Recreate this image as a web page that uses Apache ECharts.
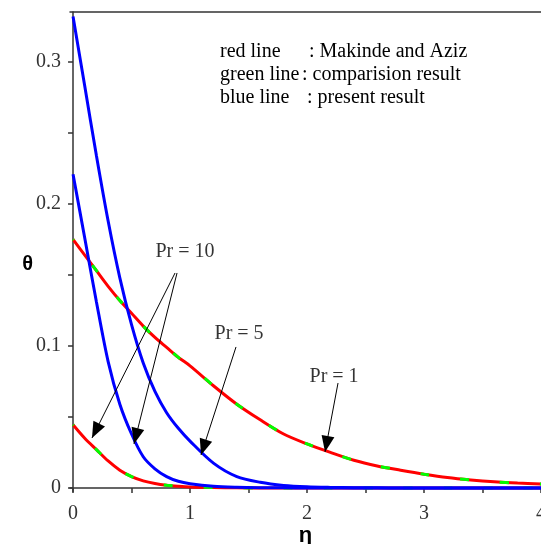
<!DOCTYPE html>
<html>
<head>
<meta charset="utf-8">
<title>theta vs eta</title>
<style>
  * { margin: 0; padding: 0; }
  #chart-container { width: 541px; height: 544px; background: #fff; }
</style>
</head>
<body>
<div id="chart-container"></div>
<script src="https://cdn.jsdelivr.net/npm/echarts@6/dist/echarts.min.js"></script>
<script>
// eta grid shared by every curve
var eta = [0, 0.1, 0.2, 0.3, 0.4, 0.5, 0.6, 0.7, 0.8, 0.9, 1.0,
  1.2, 1.4, 1.6, 1.8, 2.0, 2.2, 2.4, 2.6, 2.8, 3.0, 3.2, 3.4, 3.6, 3.8, 4.0];

// red / green (Makinde and Aziz, comparison) curves
var redPr1 = [0.175, 0.164, 0.153, 0.142, 0.132, 0.123, 0.114, 0.106, 0.099, 0.092, 0.086,
  0.072, 0.059, 0.048, 0.038, 0.031, 0.025, 0.0195, 0.0155, 0.0125, 0.0097, 0.0073, 0.0056, 0.0043, 0.0034, 0.0028];
var redPr10 = [0.0445, 0.035, 0.027, 0.019, 0.0125, 0.008, 0.005, 0.0031, 0.0019, 0.0012, 0.0007,
  0.0003, 0.0001, 0, 0, 0, 0, 0, 0, 0, 0, 0, 0, 0, 0, 0];

// blue (present result) curves
var bluePr5 = [0.332, 0.283, 0.234, 0.188, 0.148, 0.115, 0.088, 0.068, 0.053, 0.042, 0.033,
  0.0175, 0.008, 0.004, 0.0018, 0.0008, 0.0004, 0.0002, 0.0001, 0, 0, 0, 0, 0, 0, 0];
var bluePr10 = [0.221, 0.176, 0.131, 0.089, 0.059, 0.038, 0.022, 0.0135, 0.008, 0.0047, 0.003,
  0.0012, 0.0005, 0.0002, 0.0001, 0, 0, 0, 0, 0, 0, 0, 0, 0, 0, 0];

// axis ticks and labels
var xLabels = [0, 1, 2, 3, 4];
var xTicks = [0, 0.5, 1, 1.5, 2, 2.5, 3, 3.5, 4];
var yLabels = [0, 0.1, 0.2, 0.3];
var yTicks = [0, 0.05, 0.1, 0.15, 0.2, 0.25, 0.3];

// annotations: label positions and arrows [from, to] in data units
var annoText = ['Pr = 10', 'Pr = 5', 'Pr = 1'];
var annoPos = [[0.957, 0.1662], [1.419, 0.1084], [2.231, 0.0782]];
var arrowFrom = [[0.872, 0.1514], [0.889, 0.1514], [1.393, 0.0993], [2.265, 0.0739]];
var arrowTo = [[0.162, 0.0352], [0.521, 0.031], [1.094, 0.0232], [2.154, 0.0254]];

// legend text: [label, description, x of description]
var legendRows = [
  ['red line', ': Makinde and Aziz', 309],
  ['green line', ': comparision result', 302],
  ['blue line', ': present result', 307]
];

function pairs(ys) {
  return eta.map(function (x, i) { return [x, ys[i]]; });
}

var serif = '"Liberation Serif", "Times New Roman", serif';

var dom = document.getElementById('chart-container');
var myChart = echarts.init(dom, null, { renderer: 'canvas' });

var graphics = [];
legendRows.forEach(function (row, i) {
  var y = 52 + i * 23;
  graphics.push({
    type: 'text', x: 220, y: y,
    style: { text: row[0], font: '20px ' + serif, fill: '#000', textVerticalAlign: 'middle' }
  });
  graphics.push({
    type: 'text', x: row[2], y: y,
    style: { text: row[1], font: '20px ' + serif, fill: '#000', textVerticalAlign: 'middle' }
  });
});

function curve(data, color, z, dashed) {
  var ls = { color: color, width: 3 };
  if (dashed) {
    ls.type = [9, 31];
    ls.dashOffset = 8;
    ls.cap = 'butt';
  }
  return {
    type: 'line', data: pairs(data), showSymbol: false, smooth: 0.3,
    lineStyle: ls, z: z, silent: true
  };
}

var option = {
  animation: false,
  backgroundColor: '#fff',
  grid: { left: 70, right: 0, top: 12, bottom: 52.5, outerBoundsMode: 'none', containLabel: false },
  graphic: graphics,
  xAxis: [{
    type: 'value', min: -0.026, max: 4.0,
    name: 'η', nameLocation: 'middle', nameGap: 33, nameMoveOverlap: false,
    nameTextStyle: { fontFamily: 'Liberation Sans', fontWeight: 'bold', fontSize: 22, color: '#000' },
    axisLine: { lineStyle: { color: '#333', width: 1.5 } },
    axisTick: { customValues: xTicks, length: 5, lineStyle: { color: '#333', width: 1.5 } },
    axisLabel: { customValues: xLabels, margin: 12, fontFamily: serif, fontSize: 20, color: '#333' },
    splitLine: { show: false }
  }, {
    type: 'value', position: 'top', min: -0.026, max: 4.0,
    axisLine: { show: true, lineStyle: { color: '#333', width: 1.5 } },
    axisTick: { show: false }, axisLabel: { show: false }, splitLine: { show: false }
  }],
  yAxis: {
    type: 'value', min: -0.0025, max: 0.3352,
    name: 'θ', nameLocation: 'middle', nameGap: 37, nameRotate: 0, nameMoveOverlap: false,
    nameTextStyle: { fontFamily: 'Liberation Sans', fontWeight: 'bold', fontSize: 20, color: '#000',
      verticalAlign: 'top', lineHeight: 26 },
    axisLine: { lineStyle: { color: '#333', width: 1.5 } },
    axisTick: { customValues: yTicks, length: 5, lineStyle: { color: '#333', width: 1.5 } },
    axisLabel: { customValues: yLabels, margin: 9, fontFamily: serif, fontSize: 20, color: '#333',
      formatter: function (v) { return String(v); } },
    splitLine: { show: false }
  },
  series: [
    curve(redPr1, '#ff0000', 2), curve(redPr10, '#ff0000', 2),
    curve(redPr1, '#00ff00', 3, true), curve(redPr10, '#00ff00', 3, true),
    curve(bluePr5, '#0000ff', 4), curve(bluePr10, '#0000ff', 4),
    {
      type: 'scatter', symbolSize: 0, itemStyle: { color: 'rgba(0,0,0,0)' }, z: 5, silent: true,
      data: annoPos.map(function (p, i) { return [p[0], p[1], annoText[i]]; }),
      label: {
        show: true, position: 'inside', fontFamily: serif, fontSize: 20, color: '#000',
        formatter: function (p) { return p.value[2]; }
      },
      labelLayout: { hideOverlap: false },
      markLine: {
        silent: true, animation: false,
        lineStyle: { color: '#000', width: 1, type: 'solid' },
        label: { show: false },
        data: arrowFrom.map(function (f, i) {
          return [
            { coord: f, symbol: 'none' },
            { coord: arrowTo[i], symbol: 'triangle', symbolSize: [13, 16], symbolOffset: [0, 8] }
          ];
        })
      }
    }
  ]
};

myChart.setOption(option);
window.addEventListener('resize', myChart.resize);
</script>
</body>
</html>
